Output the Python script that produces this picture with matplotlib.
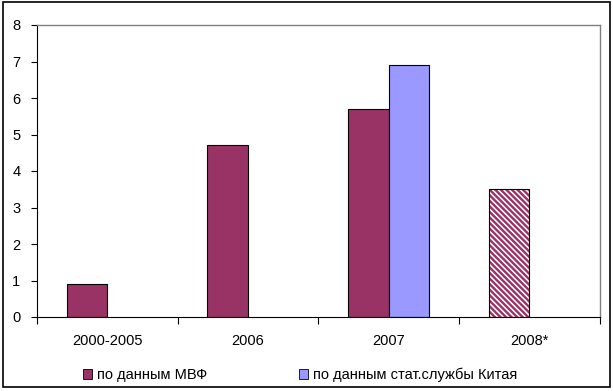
import numpy as np
import matplotlib.pyplot as plt
from matplotlib.patches import Rectangle

plt.rcParams['font.family'] = ['Liberation Sans', 'DejaVu Sans']
plt.rcParams['hatch.linewidth'] = 1.7

categories = ['2000-2005', '2006', '2007', '2008*']
imf = [0.9, 4.7, 5.7, 3.5]
china = [np.nan, np.nan, 6.9, np.nan]
imf_estimate = [False, False, False, True]
labels = ['по данным МВФ', 'по данным стат.службы Китая']

c_imf = '#993366'
c_china = '#9999FF'

fig = plt.figure(figsize=(6.13, 3.91), dpi=100)
ax = fig.add_axes([37/613, 74/391, 562.5/613, 292/391])

x = np.arange(len(categories))
w = 0.288
for i in range(len(categories)):
    if imf_estimate[i]:
        ax.bar(x[i] - w/2, imf[i], w, color='white', edgecolor=c_imf,
               hatch='\\\\\\\\\\\\', linewidth=0)
        ax.bar(x[i] - w/2, imf[i], w, fill=False, edgecolor='black', linewidth=0.8)
    else:
        ax.bar(x[i] - w/2, imf[i], w, color=c_imf, edgecolor='black', linewidth=0.8)
ax.bar(x + w/2, china, w, color=c_china, edgecolor='black', linewidth=0.8)

ax.set_xlim(-0.5, len(categories) - 0.5)
ax.set_ylim(0, 8)
ax.set_yticks(range(0, 9))
ax.set_xticks(x)
ax.set_xticklabels(categories)
ax.set_xticks(np.arange(-0.5, len(categories)), minor=True)
ax.tick_params(axis='x', which='major', length=0, pad=12, labelsize=10.5)
ax.tick_params(axis='x', which='minor', length=5, width=0.8, direction='out')
ax.tick_params(axis='y', length=4, width=0.8, direction='out', labelsize=10.5, pad=8)

for s in ['top', 'right']:
    ax.spines[s].set_color('#808080')
    ax.spines[s].set_linewidth(1)
ax.spines['left'].set_linewidth(0.8)
ax.spines['bottom'].set_linewidth(0.8)

colors = [c_imf, c_china]
starts = [83, 299]
for lab, col, x0 in zip(labels, colors, starts):
    h = Rectangle((0, 0), 1, 1, facecolor=col, edgecolor='black', linewidth=0.6)
    fig.legend([h], [lab], loc='center left', bbox_to_anchor=(x0/613, 16/391),
               frameon=False, fontsize=10.5, handlelength=0.62, handleheight=0.62,
               handletextpad=0.35, borderpad=0, borderaxespad=0)

fig.patches.append(Rectangle((3/613, 4/391), 607/613, 385/391, transform=fig.transFigure,
                             fill=False, edgecolor='black', linewidth=1.2))

fig.savefig('out.png', dpi=100)
